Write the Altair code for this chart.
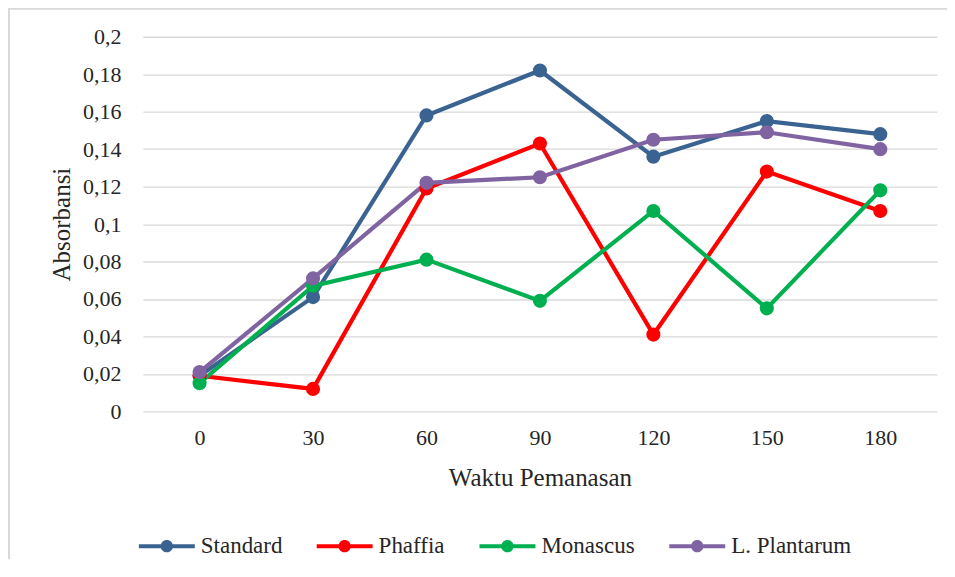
import altair as alt
import pandas as pd

times = [0, 30, 60, 90, 120, 150, 180]
series = ["Standard", "Phaffia", "Monascus", "L. Plantarum"]
standard = [0.019, 0.061, 0.158, 0.182, 0.136, 0.155, 0.148]
phaffia = [0.019, 0.012, 0.119, 0.143, 0.041, 0.128, 0.107]
monascus = [0.015, 0.067, 0.081, 0.059, 0.107, 0.055, 0.118]
plantarum = [0.021, 0.071, 0.122, 0.125, 0.145, 0.149, 0.140]
colors = ["#3A6391", "#FF0000", "#00B050", "#8064A2"]
y_ticks = [0, 0.02, 0.04, 0.06, 0.08, 0.1, 0.12, 0.14, 0.16, 0.18, 0.2]

rows = []
for name, vals in zip(series, [standard, phaffia, monascus, plantarum]):
    for t, v in zip(times, vals):
        rows.append({"Waktu": t, "Seri": name, "Garis": name, "Absorbansi": v})
df = pd.DataFrame(rows)

FONT = "Liberation Serif"
W, H = 795, 375

x_enc = alt.X(
    "Waktu:O",
    sort=times,
    scale=alt.Scale(type="point", padding=0.5),
    axis=alt.Axis(
        title="Waktu Pemanasan",
        labelAngle=0,
        ticks=False,
        domain=False,
        grid=False,
        labelPadding=16,
        labelFontSize=22,
        titleFontSize=25,
        titleFontWeight="normal",
        titleX=W / 2,
        titleY=66,
        titleBaseline="middle",
    ),
)
y_enc = alt.Y(
    "Absorbansi:Q",
    scale=alt.Scale(domain=[0, 0.2], nice=False),
    axis=alt.Axis(
        title="Absorbansi",
        values=y_ticks,
        labelExpr="replace(format(datum.value, '.2~f'), '.', ',')",
        ticks=False,
        domain=False,
        grid=True,
        gridColor="#D9D9D9",
        gridWidth=1.3,
        labelPadding=22,
        labelFontSize=22,
        titleFontSize=25,
        titleFontWeight="normal",
        titleX=-81,
        titleY=H / 2,
        titleBaseline="middle",
    ),
)

legend_shape = (
    "M-1,-0.07H1V0.07H-1Z "
    "M0.22,0A0.22,0.22,0,1,1,-0.22,0A0.22,0.22,0,1,1,0.22,0Z"
)

lines = alt.Chart(df).mark_line(strokeWidth=4.2).encode(
    x=x_enc,
    y=y_enc,
    stroke=alt.Stroke("Garis:N", scale=alt.Scale(range=colors), sort=series, legend=None),
    detail="Seri:N",
)

points = alt.Chart(df).mark_circle(size=200, opacity=1).encode(
    x=x_enc,
    y=y_enc,
    fill=alt.Fill(
        "Seri:N",
        scale=alt.Scale(domain=series, range=colors),
        sort=series,
        legend=alt.Legend(
            title=None,
            orient="none",
            direction="horizontal",
            columns=4,
            legendX=-4,
            legendY=482,
            padding=0,
            symbolType=legend_shape,
            symbolSize=3136,
            symbolStrokeWidth=0,
            symbolOpacity=1,
            labelFont=FONT,
            labelFontSize=23,
            labelColor="#262626",
            labelOffset=6,
            columnPadding=34,
        ),
    ),
)

border_left = alt.Chart(alt.Data(values=[{}])).mark_rule(
    color="#D9D9D9", strokeWidth=2, clip=False
).encode(
    x=alt.value(-134),
    y=alt.value(-29),
    y2=alt.value(523),
)
border_top = alt.Chart(alt.Data(values=[{}])).mark_rule(
    color="#D9D9D9", strokeWidth=2, clip=False
).encode(
    x=alt.value(-135),
    x2=alt.value(805),
    y=alt.value(-28),
)

chart = (
    alt.layer(border_left, border_top, lines, points)
    .properties(
        width=W,
        height=H,
        padding={"left": 135, "top": 28.5, "right": 10, "bottom": 148},
        autosize=alt.AutoSizeParams(type="none"),
    )
    .configure_view(stroke=None)
    .configure_axis(
        labelFont=FONT,
        titleFont=FONT,
        labelColor="#262626",
        titleColor="#262626",
    )
    .configure_legend(labelFont=FONT, labelFontSize=23, labelColor="#262626")
)

chart.save("out.html", embed_options={"renderer": "svg", "actions": False})
